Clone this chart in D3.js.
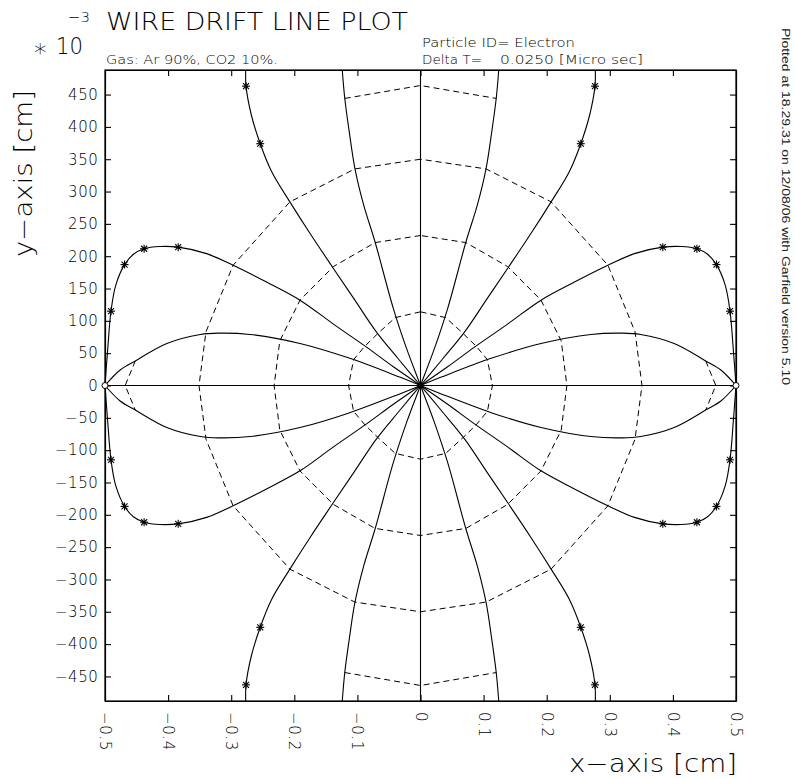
<!DOCTYPE html>
<html>
<head>
<meta charset="utf-8">
<script src="https://cdn.jsdelivr.net/npm/d3@7"></script>
<style>
  body { margin: 0; background: #fff; }
  svg { display: block; }
  text { font-family: "DejaVu Sans", sans-serif; font-weight: 200; fill: #000; }
</style>
</head>
<body>
<svg id="chart" width="795" height="779"></svg>
<script>
// axis ranges and ticks (cm)
const xRange = [-0.5, 0.5];
const yRange = [-0.488, 0.488];
const xTicks = [-0.5, -0.4, -0.3, -0.2, -0.1, 0, 0.1, 0.2, 0.3, 0.4, 0.5];
const yTicks = [-0.45, -0.4, -0.35, -0.3, -0.25, -0.2, -0.15, -0.1, -0.05, 0,
                0.05, 0.1, 0.15, 0.2, 0.25, 0.3, 0.35, 0.4, 0.45];

// drift lines, all ending on the wire at (0,0)
const axisH = [[-0.5, 0], [0.5, 0]];
const axisV = [[0, 0.488], [0, -0.488]];

const lineA1 = [[-0.277, 0.488], [-0.2765, 0.463], [-0.268, 0.418], [-0.254, 0.374], [-0.236, 0.331],
  [-0.207, 0.284], [-0.175, 0.235], [-0.138, 0.181], [-0.104, 0.132], [-0.070, 0.083], [-0.035, 0.041],
  [0, 0], [0.035, -0.041], [0.070, -0.083], [0.104, -0.132], [0.138, -0.181], [0.175, -0.235],
  [0.207, -0.284], [0.236, -0.331], [0.254, -0.374], [0.268, -0.418], [0.2765, -0.463], [0.277, -0.488]];
const lineA2 = [[0.277, 0.488], [0.2765, 0.463], [0.268, 0.418], [0.254, 0.374], [0.236, 0.331],
  [0.207, 0.284], [0.175, 0.235], [0.138, 0.181], [0.104, 0.132], [0.070, 0.083], [0.035, 0.041],
  [0, 0], [-0.035, -0.041], [-0.070, -0.083], [-0.104, -0.132], [-0.138, -0.181], [-0.175, -0.235],
  [-0.207, -0.284], [-0.236, -0.331], [-0.254, -0.374], [-0.268, -0.418], [-0.2765, -0.463], [-0.277, -0.488]];

const lineB1 = [[-0.124, 0.488], [-0.120, 0.444], [-0.113, 0.393], [-0.104, 0.336], [-0.090, 0.279],
  [-0.072, 0.222], [-0.043, 0.119], [-0.022, 0.057], [0, 0], [0.022, -0.057], [0.043, -0.119],
  [0.072, -0.222], [0.090, -0.279], [0.104, -0.336], [0.113, -0.393], [0.120, -0.444], [0.124, -0.488]];
const lineB2 = [[0.124, 0.488], [0.120, 0.444], [0.113, 0.393], [0.104, 0.336], [0.090, 0.279],
  [0.072, 0.222], [0.043, 0.119], [0.022, 0.057], [0, 0], [-0.022, -0.057], [-0.043, -0.119],
  [-0.072, -0.222], [-0.090, -0.279], [-0.104, -0.336], [-0.113, -0.393], [-0.120, -0.444], [-0.124, -0.488]];

const lineC1 = [[-0.5, 0], [-0.496, 0.052], [-0.4905, 0.115], [-0.483, 0.155], [-0.469, 0.187],
  [-0.455, 0.203], [-0.438, 0.2115], [-0.413, 0.215], [-0.384, 0.214], [-0.339, 0.204], [-0.297, 0.186],
  [-0.244, 0.160], [-0.191, 0.132], [-0.138, 0.095], [-0.085, 0.059], [-0.043, 0.029], [0, 0],
  [0.043, -0.029], [0.085, -0.059], [0.138, -0.095], [0.191, -0.132], [0.244, -0.160], [0.297, -0.186],
  [0.339, -0.204], [0.384, -0.214], [0.413, -0.215], [0.438, -0.2115], [0.455, -0.203], [0.469, -0.187],
  [0.483, -0.155], [0.4905, -0.115], [0.496, -0.052], [0.5, 0]];
const lineC2 = [[0.5, 0], [0.496, 0.052], [0.4905, 0.115], [0.483, 0.155], [0.469, 0.187],
  [0.455, 0.203], [0.438, 0.2115], [0.413, 0.215], [0.384, 0.214], [0.339, 0.204], [0.297, 0.186],
  [0.244, 0.160], [0.191, 0.132], [0.138, 0.095], [0.085, 0.059], [0.043, 0.029], [0, 0],
  [-0.043, -0.029], [-0.085, -0.059], [-0.138, -0.095], [-0.191, -0.132], [-0.244, -0.160], [-0.297, -0.186],
  [-0.339, -0.204], [-0.384, -0.214], [-0.413, -0.215], [-0.438, -0.2115], [-0.455, -0.203], [-0.469, -0.187],
  [-0.483, -0.155], [-0.4905, -0.115], [-0.496, -0.052], [-0.5, 0]];

const lineD1 = [[-0.5, 0], [-0.476, 0.024], [-0.452, 0.038], [-0.402, 0.065], [-0.349, 0.079],
  [-0.318, 0.081], [-0.270, 0.079], [-0.191, 0.065], [-0.112, 0.042], [-0.033, 0.013], [0, 0],
  [0.033, -0.013], [0.112, -0.042], [0.191, -0.065], [0.270, -0.079], [0.318, -0.081], [0.349, -0.079],
  [0.402, -0.065], [0.452, -0.038], [0.476, -0.024], [0.5, 0]];
const lineD2 = [[0.5, 0], [0.476, 0.024], [0.452, 0.038], [0.402, 0.065], [0.349, 0.079],
  [0.318, 0.081], [0.270, 0.079], [0.191, 0.065], [0.112, 0.042], [0.033, 0.013], [0, 0],
  [-0.033, -0.013], [-0.112, -0.042], [-0.191, -0.065], [-0.270, -0.079], [-0.318, -0.081], [-0.349, -0.079],
  [-0.402, -0.065], [-0.452, -0.038], [-0.476, -0.024], [-0.5, 0]];

// isochrones (dashed)
const iso1 = [[0, 0.114], [-0.040, 0.105], [-0.068, 0.080], [-0.088, 0.061], [-0.106, 0.040], [-0.114, 0],
  [-0.106, -0.040], [-0.088, -0.061], [-0.068, -0.080], [-0.040, -0.105], [0, -0.114],
  [0.040, -0.105], [0.068, -0.080], [0.088, -0.061], [0.106, -0.040], [0.114, 0],
  [0.106, 0.040], [0.088, 0.061], [0.068, 0.080], [0.040, 0.105], [0, 0.114]];
const iso2 = [[0, 0.232], [-0.072, 0.221], [-0.138, 0.184], [-0.191, 0.132], [-0.223, 0.069], [-0.232, 0],
  [-0.223, -0.069], [-0.191, -0.132], [-0.138, -0.184], [-0.072, -0.221], [0, -0.232],
  [0.072, -0.221], [0.138, -0.184], [0.191, -0.132], [0.223, -0.069], [0.232, 0],
  [0.223, 0.069], [0.191, 0.132], [0.138, 0.184], [0.072, 0.221], [0, 0.232]];
const iso3 = [[0, 0.350], [-0.104, 0.335], [-0.207, 0.284], [-0.297, 0.186], [-0.340, 0.083], [-0.351, 0],
  [-0.340, -0.083], [-0.297, -0.186], [-0.207, -0.284], [-0.104, -0.335], [0, -0.350],
  [0.104, -0.335], [0.207, -0.284], [0.297, -0.186], [0.340, -0.083], [0.351, 0],
  [0.340, 0.083], [0.297, 0.186], [0.207, 0.284], [0.104, 0.335], [0, 0.350]];
const iso4Top = [[-0.120, 0.444], [0, 0.464], [0.120, 0.444]];
const iso4Bottom = [[-0.120, -0.444], [0, -0.464], [0.120, -0.444]];
const iso4Left = [[-0.452, 0.038], [-0.468, 0], [-0.452, -0.038]];
const iso4Right = [[0.452, 0.038], [0.468, 0], [0.452, -0.038]];

// time markers on the drift lines
const starsA = [[-0.2765, 0.463], [-0.254, 0.374], [0.2765, 0.463], [0.254, 0.374],
  [-0.2765, -0.463], [-0.254, -0.374], [0.2765, -0.463], [0.254, -0.374]];
const starsC = [[-0.4905, 0.115], [-0.469, 0.187], [-0.438, 0.2115], [-0.384, 0.214],
  [0.4905, 0.115], [0.469, 0.187], [0.438, 0.2115], [0.384, 0.214],
  [-0.4905, -0.115], [-0.469, -0.187], [-0.438, -0.2115], [-0.384, -0.214],
  [0.4905, -0.115], [0.469, -0.187], [0.438, -0.2115], [0.384, -0.214]];
const wireMarks = [[-0.5, 0], [0.5, 0]];

const svg = d3.select("#chart");
svg.append("rect").attr("width", 795).attr("height", 779).attr("fill", "#fff");

const x = d3.scaleLinear().domain(xRange).range([105, 736]);
const y = d3.scaleLinear().domain(yRange).range([701, 70]);

const fmtX = d => d === 0 ? "0" : d.toFixed(1).replace("-", "\u2212");
const fmtY = d => String(Math.round(d * 1000)).replace("-", "\u2212");

// frame + ticks
svg.append("rect")
    .attr("x", x(-0.5)).attr("y", y(0.488))
    .attr("width", x(0.5) - x(-0.5)).attr("height", y(-0.488) - y(0.488))
    .attr("fill", "none").attr("stroke", "#000").attr("stroke-width", 1.2);

const gx = svg.append("g")
    .attr("transform", `translate(0,${y(-0.488)})`)
    .call(d3.axisBottom(x).tickValues(xTicks).tickSize(-6).tickSizeOuter(0).tickFormat(fmtX));
gx.selectAll("text")
    .attr("transform", "rotate(90)")
    .attr("x", 11).attr("y", 0).attr("dy", "0.36em")
    .style("text-anchor", "start");

svg.append("g")
    .attr("transform", `translate(0,${y(0.488)})`)
    .call(d3.axisTop(x).tickValues(xTicks).tickSize(-6).tickSizeOuter(0).tickFormat(""));

svg.append("g")
    .attr("transform", `translate(${x(-0.5)},0)`)
    .call(d3.axisLeft(y).tickValues(yTicks).tickSize(-6).tickSizeOuter(0).tickPadding(6.5).tickFormat(fmtY));

svg.append("g")
    .attr("transform", `translate(${x(0.5)},0)`)
    .call(d3.axisRight(y).tickValues(yTicks).tickSize(-6).tickSizeOuter(0).tickFormat(""));

svg.selectAll(".domain").attr("stroke", "#000").attr("stroke-width", 1.2);
svg.selectAll(".tick line").attr("stroke", "#000").attr("stroke-width", 1.1);
svg.selectAll(".tick text")
    .style("font-family", "'DejaVu Sans', sans-serif")
    .style("font-weight", 200)
    .style("font-size", "15px")
    .style("letter-spacing", "0.6px");

// drift lines
const line = d3.line().x(d => x(d[0])).y(d => y(d[1])).curve(d3.curveCatmullRom.alpha(0.5));
const straight = d3.line().x(d => x(d[0])).y(d => y(d[1]));

const drift = [axisH, axisV, lineA1, lineA2, lineB1, lineB2, lineC1, lineC2, lineD1, lineD2];
svg.append("g").selectAll("path")
    .data(drift)
    .enter().append("path")
    .attr("d", d => d.length > 2 ? line(d) : straight(d))
    .attr("fill", "none")
    .attr("stroke", "#000")
    .attr("stroke-width", 1.1);

const isos = [iso1, iso2, iso3, iso4Top, iso4Bottom, iso4Left, iso4Right];
svg.append("g").selectAll("path")
    .data(isos)
    .enter().append("path")
    .attr("d", d => straight(d))
    .attr("fill", "none")
    .attr("stroke", "#000")
    .attr("stroke-width", 1)
    .attr("stroke-dasharray", "6,4");

// star markers
const star = svg.append("g").selectAll("g")
    .data(starsA.concat(starsC))
    .enter().append("g")
    .attr("transform", d => `translate(${x(d[0])},${y(d[1])})`);
[[-4, 0, 4, 0], [0, -4, 0, 4], [-3, -3, 3, 3], [-3, 3, 3, -3]].forEach(s => {
    star.append("line")
        .attr("x1", s[0]).attr("y1", s[1]).attr("x2", s[2]).attr("y2", s[3])
        .attr("stroke", "#000").attr("stroke-width", 1.1);
});
star.append("circle").attr("r", 1.4).attr("fill", "#000");

svg.append("g").selectAll("circle")
    .data(wireMarks)
    .enter().append("circle")
    .attr("cx", d => x(d[0])).attr("cy", d => y(d[1]))
    .attr("r", 3).attr("fill", "#fff").attr("stroke", "#000").attr("stroke-width", 1);

svg.append("circle").attr("cx", x(0)).attr("cy", y(0)).attr("r", 3).attr("fill", "#000");

// texts
svg.append("text").attr("x", 106).attr("y", 30)
    .attr("textLength", 302).attr("lengthAdjust", "spacingAndGlyphs")
    .style("font-size", "24px").text("WIRE DRIFT LINE PLOT");
svg.append("text").attr("x", 68).attr("y", 22)
    .attr("textLength", 22).attr("lengthAdjust", "spacingAndGlyphs")
    .style("font-size", "14px").text("\u22123");
svg.append("text").attr("x", 34).attr("y", 61)
    .style("font-size", "25px").text("*");
svg.append("text").attr("x", 56).attr("y", 54)
    .attr("textLength", 27).attr("lengthAdjust", "spacingAndGlyphs")
    .style("font-size", "23px").text("10");
svg.append("text").attr("x", 106).attr("y", 64)
    .attr("textLength", 172).attr("lengthAdjust", "spacingAndGlyphs")
    .style("font-size", "13px").text("Gas: Ar 90%, CO2 10%.");
svg.append("text").attr("x", 422).attr("y", 47)
    .attr("textLength", 153).attr("lengthAdjust", "spacingAndGlyphs")
    .style("font-size", "13px").text("Particle ID= Electron");
svg.append("text").attr("x", 422).attr("y", 63.5)
    .attr("textLength", 60).attr("lengthAdjust", "spacingAndGlyphs")
    .style("font-size", "13px").text("Delta T=");
svg.append("text").attr("x", 500).attr("y", 63.5)
    .attr("textLength", 143).attr("lengthAdjust", "spacingAndGlyphs")
    .style("font-size", "13px").text("0.0250 [Micro sec]");

svg.append("text").attr("x", 569).attr("y", 772)
    .attr("textLength", 168).attr("lengthAdjust", "spacingAndGlyphs")
    .style("font-size", "25px").text("x\u2212axis [cm]");
svg.append("text").attr("transform", "translate(32,257) rotate(-90)")
    .attr("textLength", 167).attr("lengthAdjust", "spacingAndGlyphs")
    .style("font-size", "25px").text("y\u2212axis [cm]");

svg.append("text").attr("transform", "translate(782,28) rotate(90)")
    .attr("textLength", 357).attr("lengthAdjust", "spacingAndGlyphs")
    .style("font-family", "'Liberation Sans', Arial, sans-serif")
    .style("font-weight", 400)
    .style("fill", "#222")
    .style("font-size", "11px")
    .text("Plotted at 18.29.31 on 12/08/06 with Garfield version 5.10");
</script>
</body>
</html>
